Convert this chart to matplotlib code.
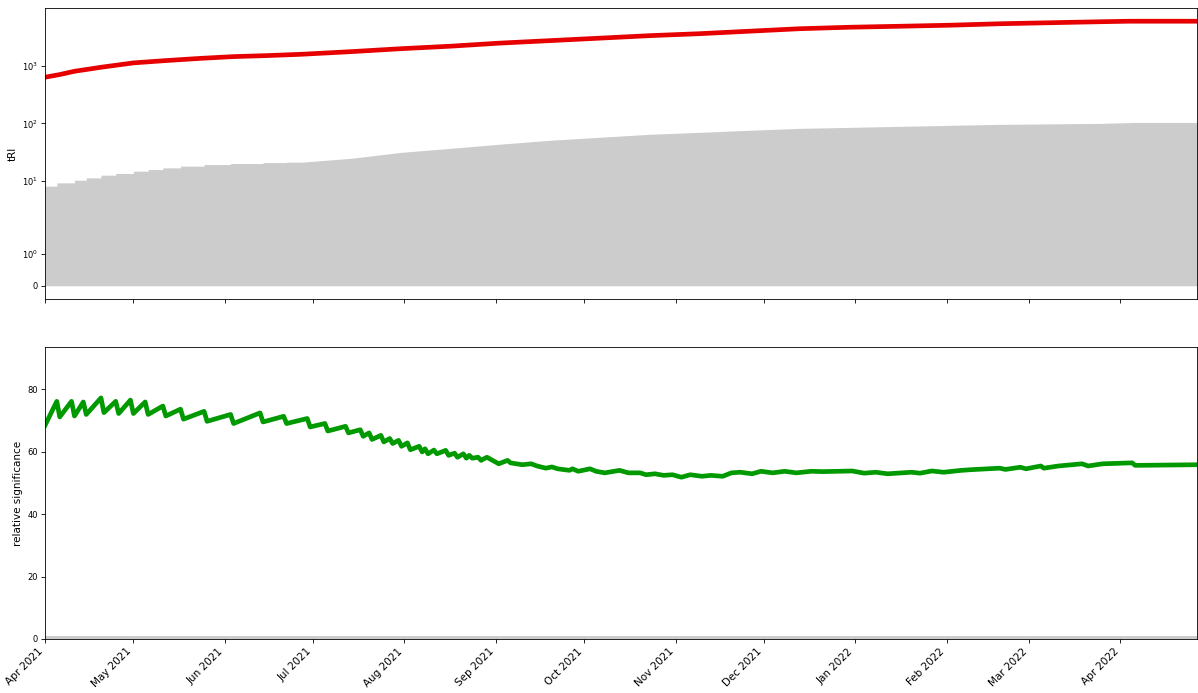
import numpy as np
import pandas as pd
import matplotlib
matplotlib.use("Agg")
import matplotlib.pyplot as plt
from matplotlib.ticker import FixedLocator, FixedFormatter
import matplotlib.dates as mdates

START = pd.Timestamp("2021-04-01")
END_DAY = 391

# red line: tRI (day offset from 2021-04-01, value)
red_day = [0, 5, 10, 19, 30, 41, 53, 64, 75, 87, 104, 121, 138, 154, 171, 188, 205, 222, 239,
           256, 273, 290, 307, 324, 341, 358, 368, 391]
red_val = [630, 700, 798, 936, 1114, 1222, 1337, 1432, 1489, 1570, 1746, 1964, 2173, 2445, 2700,
           2980, 3296, 3565, 3936, 4346, 4613, 4797, 4999, 5300, 5520, 5742, 5862, 5862]

# grey area outline vertices (day offset, value)
grey_day = [0, 4, 4, 10, 10, 14, 14, 19, 19, 24, 24, 30, 30, 35, 35, 40, 40, 46, 46, 54, 54,
            63, 63, 74, 74, 82, 82, 87, 104, 121, 138, 154, 171, 188, 205, 222, 239, 256, 273,
            290, 307, 324, 358, 370, 391]
grey_val = [8.2, 8.2, 9.35, 9.35, 10.4, 10.4, 11.4, 11.4, 12.7, 12.7, 13.6, 13.6, 14.9, 14.9,
            15.9, 15.9, 17.0, 17.0, 18.2, 18.2, 19.4, 19.4, 20.2, 20.2, 21.0, 21.0, 21.3, 21.3,
            24.9, 31.6, 37.1, 43.5, 50.9, 57.4, 64.7, 70.0, 75.9, 82.0, 85.3, 88.9, 92.5, 96.2,
            100, 104, 104]

# green line: relative significance (day offset, value)
green_day = [0, 4, 5, 9, 10, 13, 14, 19, 20, 24, 25, 29, 30, 34, 35, 40, 41, 46, 47, 54, 55, 63, 64,
             73, 74, 81, 82, 89, 90, 95, 96, 102, 103, 107, 108, 110, 111, 114, 115, 117, 118,
             120, 121, 123, 124, 127, 128, 129, 130, 132, 133, 136, 137, 139, 140, 142, 143,
             144, 145, 147, 148, 150, 154, 157, 158, 162, 165, 167, 170, 172, 174, 178, 179,
             181, 185, 187, 190, 195, 198, 202, 204, 207, 210, 213, 216, 219, 223, 226, 230,
             233, 236, 240, 243, 247, 251, 255, 260, 264, 274, 278, 282, 286, 294, 297, 301,
             305, 311, 314, 320, 324, 326, 331, 333, 338, 339, 344, 352, 354, 359, 369, 370, 391]
green_val = [68.4, 76.1, 71.1, 76.1, 71.4, 75.9, 71.9, 77.2, 72.5, 76.1, 72.2, 76.5, 72.2, 75.9, 71.9,
             74.6, 71.4, 73.6, 70.4, 72.9, 69.7, 71.9, 69.0,
             72.4, 69.5, 71.3, 69.0, 70.6, 67.9, 69.0, 66.6, 68.1, 66.0, 67.0, 64.9, 66.0, 63.9,
             65.2, 63.1, 64.2, 62.6, 63.6, 61.7, 62.8, 60.6, 61.7, 59.9, 60.9, 59.3, 60.5, 59.3,
             60.4, 58.8, 59.5, 58.2, 59.3, 57.9, 58.8, 57.9, 58.2, 57.2, 58.2, 56.1, 57.2, 56.4,
             55.8, 56.1, 55.4, 54.7, 55.1, 54.5, 54.0, 54.5, 53.7, 54.5, 53.7, 53.2, 54.0, 53.2,
             53.2, 52.6, 52.9, 52.4, 52.6, 51.8, 52.6, 52.1, 52.4, 52.1, 53.2, 53.4, 52.9, 53.7,
             53.2, 53.7, 53.2, 53.7, 53.6, 53.8, 53.1, 53.4, 52.9, 53.4, 53.1, 53.8, 53.4, 54.0,
             54.2, 54.5, 54.7, 54.3, 55.0, 54.5, 55.4, 54.7, 55.4, 56.1, 55.4, 56.1, 56.4, 55.6, 55.8]

# grey band in lower panel
band_day = [0, 391]
band_val = [1.0, 1.0]

top_ticks = [0, 1, 10, 100, 1000]
top_ticklabels = ["0", r"$\mathdefault{10^{0}}$", r"$\mathdefault{10^{1}}$",
                  r"$\mathdefault{10^{2}}$", r"$\mathdefault{10^{3}}$"]


def to_dates(days):
    return START + pd.to_timedelta(np.asarray(days, dtype=float), unit="D")


DPI = 75
fig = plt.figure(figsize=(1198 / DPI, 693 / DPI), dpi=DPI)
ax1 = fig.add_axes([45 / 1198, 1 - 299 / 693, 1152 / 1198, 291 / 693])
ax2 = fig.add_axes([45 / 1198, 1 - 639 / 693, 1152 / 1198, 292 / 693], sharex=ax1)

ax1.set_yscale("symlog", linthresh=2)
ax1.fill_between(to_dates(grey_day), 0, grey_val, color="#cccccc", lw=0)
ax1.plot(to_dates(red_day), red_val, color="#e60000", lw=4.5)
ax1.yaxis.set_major_locator(FixedLocator(top_ticks))
ax1.yaxis.set_major_formatter(FixedFormatter(top_ticklabels))
ax1.yaxis.set_minor_locator(FixedLocator([]))
ax1.set_ylabel("tRI", fontsize=10)
ax1.tick_params(labelsize=8)
plt.setp(ax1.get_xticklabels(), visible=False)

ax2.fill_between(to_dates(band_day), 0, band_val, color="#cccccc", lw=0)
ax2.plot(to_dates(green_day), green_val, color="#009900", lw=4.5)
ax2.set_ylim(0, 93.5)
ax2.set_ylabel("relative significance", fontsize=10)
ax2.tick_params(labelsize=8)

ax2.set_xlim(to_dates([0])[0], to_dates([END_DAY])[0])
ax2.xaxis.set_major_locator(mdates.MonthLocator())
ax2.xaxis.set_major_formatter(mdates.DateFormatter("%b %Y"))
for lab in ax2.get_xticklabels():
    lab.set_rotation(45)
    lab.set_ha("right")
    lab.set_fontsize(10)

fig.savefig("out.png", dpi=DPI)
